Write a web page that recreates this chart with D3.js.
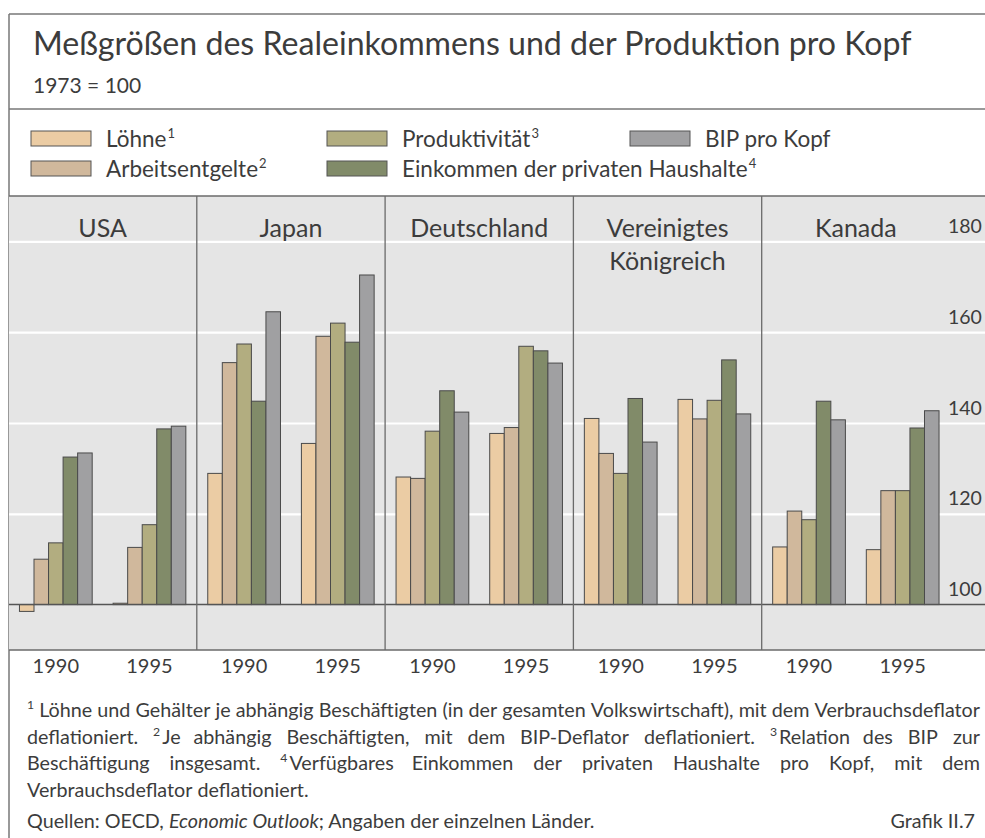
<!DOCTYPE html>
<html><head><meta charset="utf-8">
<script src="https://cdn.jsdelivr.net/npm/d3@7"></script>
<style>
body{margin:0;background:#fff}
svg{display:block}
text{font-family:Lato,"Open Sans",sans-serif;fill:#3c3c3c}
</style>
</head><body>
<svg id="c" width="985" height="838"></svg>
<script>
// ---------- data ----------
const countries = ["USA","Japan","Deutschland","Vereinigtes Königreich","Kanada"];
const countryLabels = [["USA"],["Japan"],["Deutschland"],["Vereinigtes","Königreich"],["Kanada"]];
const years = ["1990","1995"];
const seriesNames = ["Löhne","Arbeitsentgelte","Produktivität","Einkommen der privaten Haushalte","BIP pro Kopf"];
const seriesSup = ["1","2","3","4",""];
const seriesColors = ["#ebcca4","#d0b89c","#b2ad80","#818b69","#a0a0a2"];
// values, ordered USA90, USA95, JPN90, JPN95, GER90, GER95, UK90, UK95, CAN90, CAN95
const loehne          = [98.5,100.3, 128.9,135.5, 128.1,137.7, 141.0,145.2, 112.7,112.1];
const arbeitsentgelte = [110.0,112.6, 153.3,159.1, 127.8,139.0, 133.3,140.9, 120.6,125.1];
const produktivitaet  = [113.6,117.6, 157.4,162.0, 138.2,156.9, 128.9,145.0, 118.7,125.1];
const einkommen       = [132.5,138.7, 144.8,157.8, 147.1,155.9, 145.4,153.9, 144.8,138.9];
const bipProKopf      = [133.4,139.3, 164.5,172.6, 142.4,153.2, 135.8,142.0, 140.7,142.7];
const yTicks = [100,120,140,160,180];
const gridTicks = [120,140,160,180];
const titleText = "Meßgrößen des Realeinkommens und der Produktion pro Kopf";
const subtitleText = "1973 = 100";
const footnoteLines = [
  "^1 Löhne und Gehälter je abhängig Beschäftigten (in der gesamten Volkswirtschaft), mit dem Verbrauchsdeflator",
  "deflationiert. ^2Je abhängig Beschäftigten, mit dem BIP-Deflator deflationiert. ^3Relation des BIP zur",
  "Beschäftigung insgesamt. ^4Verfügbares Einkommen der privaten Haushalte pro Kopf, mit dem",
  "Verbrauchsdeflator deflationiert."
];
const sourcePre = "Quellen: OECD, ";
const sourceItalic = "Economic Outlook";
const sourcePost = "; Angaben der einzelnen Länder.";
const chartId = "Grafik II.7";

const seriesValues = [loehne, arbeitsentgelte, produktivitaet, einkommen, bipProKopf];

// ---------- layout ----------
const W = 985, H = 838;
const svg = d3.select("#c");
const frameX = 9;
const plotTop = 196, plotBottom = 650;
const lineCol = "#6a6a6a";

svg.append("rect").attr("width",W).attr("height",H).attr("fill","#fff");

// frame lines
svg.append("line").attr("x1",frameX).attr("x2",W).attr("y1",14).attr("y2",14).attr("stroke","#777").attr("stroke-width",1.5);
svg.append("line").attr("x1",frameX).attr("x2",W).attr("y1",109).attr("y2",109).attr("stroke","#777").attr("stroke-width",1.5);
svg.append("line").attr("x1",frameX).attr("x2",frameX).attr("y1",14).attr("y2",H).attr("stroke","#777").attr("stroke-width",1.5);

// title
const title = svg.append("text").attr("x",33).attr("y",55).attr("font-size",30).attr("fill","#454545").text(titleText);
{
  const w = title.node().getComputedTextLength();
  title.attr("font-size", 30*879/w);
}
svg.append("text").attr("x",33).attr("y",93).attr("font-size",21).attr("fill","#3c3c3c").text(subtitleText);

// legend
const legendPos = [[31,147],[31,177],[327,147],[327,177],[630,147]];
seriesNames.forEach((s,i)=>{
  const [lx,ly] = legendPos[i];
  svg.append("rect").attr("x",lx).attr("y",ly-16).attr("width",60).attr("height",15)
    .attr("fill",seriesColors[i]).attr("stroke","#555").attr("stroke-width",1);
  const t = svg.append("text").attr("x",lx+75).attr("y",ly).attr("font-size",22.5);
  t.append("tspan").text(s);
  if (seriesSup[i]) t.append("tspan").attr("font-size",13).attr("dx",1).attr("dy",-9).text(seriesSup[i]);
});

// scales
const x0 = d3.scaleBand().domain(countries).range([8.5, 950]);
const x1 = d3.scaleBand().domain(years).range([0, x0.bandwidth()]).paddingInner(0.2234).paddingOuter(0.117);
const x2 = d3.scaleBand().domain(seriesNames).range([0, x1.bandwidth()]);
const y = d3.scaleLinear().domain([90,190]).range([plotBottom, plotTop]);

// plot background
svg.append("rect").attr("x",frameX).attr("y",plotTop).attr("width",W-frameX).attr("height",plotBottom-plotTop).attr("fill","#e5e5e5");

// grid (white) via axis
const grid = svg.append("g").attr("transform",`translate(${W},0)`)
  .call(d3.axisLeft(y).tickValues(gridTicks).tickSize(W-frameX).tickFormat(""));
grid.select(".domain").remove();
grid.selectAll("line").attr("stroke","#ffffff").attr("stroke-width",2.2);

// y labels
const yAx = svg.append("g").attr("transform","translate(947,0)")
  .call(d3.axisRight(y).tickValues(yTicks).tickSize(0).tickPadding(1));
yAx.select(".domain").remove();
yAx.selectAll("text").attr("font-size",19.5).attr("font-family","Lato, sans-serif").attr("fill","#3c3c3c").attr("dy","-9px");

// bars
const barData = [];
countries.forEach((c,ci)=>{
  years.forEach((yr,yi)=>{
    seriesNames.forEach((s,si)=>{
      barData.push({c, yr, s, si, v: seriesValues[si][ci*2+yi]});
    });
  });
});
svg.append("g").selectAll("rect").data(barData).join("rect")
  .attr("x", d=>x0(d.c)+x1(d.yr)+x2(d.s))
  .attr("width", x2.bandwidth())
  .attr("y", d=>y(Math.max(d.v,100)))
  .attr("height", d=>Math.max(0.8, Math.abs(y(d.v)-y(100))))
  .attr("fill", d=>seriesColors[d.si])
  .attr("stroke","#4a4a4a").attr("stroke-width",1);

// baseline at 100
svg.append("line").attr("x1",frameX).attr("x2",W).attr("y1",y(100)).attr("y2",y(100)).attr("stroke","#555").attr("stroke-width",1.5);

// panel dividers and top/bottom lines
countries.slice(1).forEach(c=>{
  svg.append("line").attr("x1",x0(c)).attr("x2",x0(c)).attr("y1",plotTop).attr("y2",plotBottom).attr("stroke",lineCol).attr("stroke-width",1.3);
});
svg.append("line").attr("x1",frameX).attr("x2",W).attr("y1",plotTop).attr("y2",plotTop).attr("stroke",lineCol).attr("stroke-width",1.5);
svg.append("line").attr("x1",frameX).attr("x2",W).attr("y1",plotBottom).attr("y2",plotBottom).attr("stroke",lineCol).attr("stroke-width",1.5);

// country labels
countries.forEach((c,ci)=>{
  countryLabels[ci].forEach((ln,li)=>{
    svg.append("text").attr("x",x0(c)+x0.bandwidth()/2).attr("y",237+li*33)
      .attr("text-anchor","middle").attr("font-size",25).attr("fill","#3a3a3a").text(ln);
  });
});

// year labels
countries.forEach(c=>{
  const g = svg.append("g").attr("transform",`translate(${x0(c)},${plotBottom})`)
    .call(d3.axisBottom(x1).tickSize(0).tickPadding(9));
  g.select(".domain").remove();
  g.selectAll("text").attr("font-size",20).attr("font-family","Lato, sans-serif").attr("fill","#3c3c3c");
});

// footnotes (justified)
const fnX0 = 27, fnX1 = 980;
let fs = 18;
function makeTokens(g, line, yb, size){
  return line.split(" ").map(tok=>{
    const t = g.append("text").attr("y",yb).attr("font-size",size).attr("fill","#333");
    const m = tok.match(/^\^(\d)(.*)$/);
    if (m){
      t.append("tspan").attr("font-size",size*0.62).attr("dy",-size*0.4).text(m[1]);
      if (m[2]) t.append("tspan").attr("dx",2).attr("dy",size*0.4).text(m[2]);
    } else t.text(tok);
    return t;
  });
}
// fit font size so line 1 has natural spacing across the full width
{
  const g = svg.append("g");
  const toks = makeTokens(g, footnoteLines[0], 0, fs);
  const sp = svg.append("text").attr("font-size",fs).text("n n");
  const sp2 = svg.append("text").attr("font-size",fs).text("nn");
  const sw = sp.node().getComputedTextLength()-sp2.node().getComputedTextLength();
  const w = d3.sum(toks, t=>t.node().getComputedTextLength()) + sw*(toks.length-1);
  g.remove(); sp.remove(); sp2.remove();
  fs = fs*(fnX1-fnX0)/w;
}
const spaceProbe = svg.append("text").attr("font-size",fs).text("n n");
const spaceProbe2 = svg.append("text").attr("font-size",fs).text("nn");
const spaceW = spaceProbe.node().getComputedTextLength()-spaceProbe2.node().getComputedTextLength();
spaceProbe.remove(); spaceProbe2.remove();

const fnBaselines = [717, 744, 770, 797];
footnoteLines.forEach((line,li)=>{
  const g = svg.append("g");
  const toks = makeTokens(g, line, fnBaselines[li], fs);
  const widths = toks.map(t=>t.node().getComputedTextLength());
  const total = d3.sum(widths);
  const justify = li < footnoteLines.length-1;
  const gap = justify ? (fnX1-fnX0-total)/(toks.length-1) : spaceW;
  let x = fnX0;
  toks.forEach((t,i)=>{ t.attr("x",x); x += widths[i] + gap; });
});

// source line
const src = svg.append("text").attr("x",fnX0).attr("y",828).attr("font-size",fs).attr("fill","#333");
src.append("tspan").text(sourcePre);
src.append("tspan").attr("font-style","italic").text(sourceItalic);
src.append("tspan").text(sourcePost);
svg.append("text").attr("x",975).attr("y",828).attr("text-anchor","end").attr("font-size",fs).attr("fill","#333").text(chartId);
</script>
</body></html>
